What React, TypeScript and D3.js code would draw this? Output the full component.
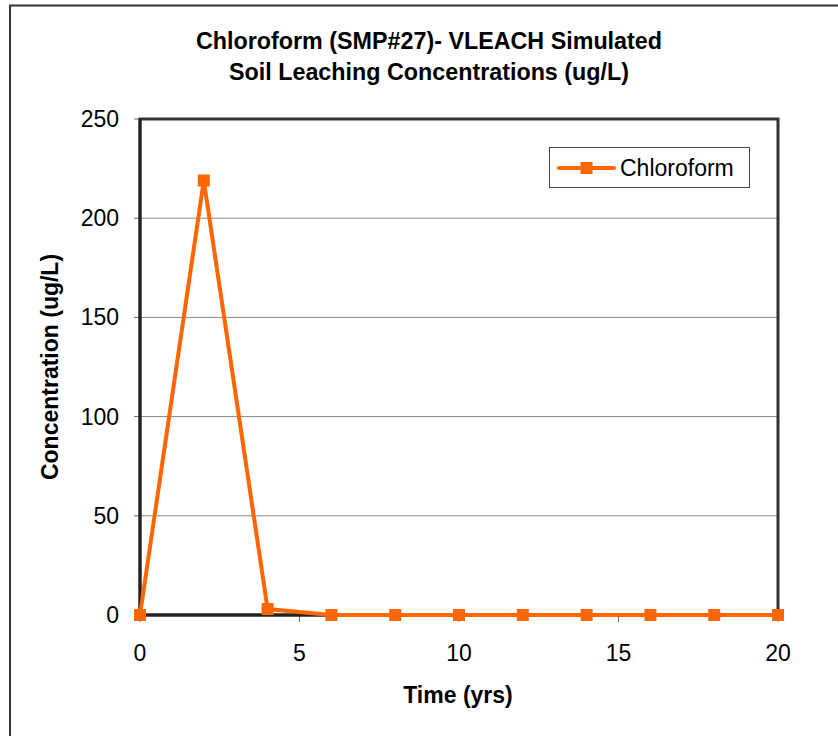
import React from "react";
import * as d3 from "d3";

const years = [0, 2, 4, 6, 8, 10, 12, 14, 16, 18, 20];
const concentrations = [0, 219, 3, 0, 0, 0, 0, 0, 0, 0, 0];
const xTicks = [0, 5, 10, 15, 20];
const yTicks = [0, 50, 100, 150, 200, 250];
const titleLines = ["Chloroform (SMP#27)- VLEACH Simulated", "Soil Leaching Concentrations (ug/L)"];
const seriesName = "Chloroform";

const W = 838, H = 736;
const L = 140, R = 778, T = 119, B = 615;
const ORANGE = "#FF6600";
const FONT = "'Liberation Sans', Arial, sans-serif";

export default function App() {
  const x = d3.scaleLinear().domain([0, 20]).range([L, R]);
  const y = d3.scaleLinear().domain([0, 250]).range([B, T]);
  const line = d3.line<number>().x((_, i) => x(years[i])).y((d) => y(d));
  const path = line(concentrations) || "";
  const ms = 12;
  return (
    <svg width={W} height={H} style={{ position: "absolute", left: 0, top: 0 }} fontFamily={FONT}>
      <rect x={0} y={0} width={W} height={H} fill="#fff" />
      <rect x={10} y={5.5} width={W + 10} height={H + 10} fill="none" stroke="#333" strokeWidth={2} />
      {titleLines.map((t, i) => (
        <text key={i} x={429} y={49 + i * 31} textAnchor="middle" fontSize={23.3} fontWeight="bold" fill="#000">{t}</text>
      ))}
      {yTicks.filter((v) => v > 0).map((v) => (
        <line key={v} x1={L} x2={R} y1={y(v)} y2={y(v)} stroke="#888" strokeWidth={1} />
      ))}
      {yTicks.map((v) => (
        <g key={v}>
          <line x1={L - 6} x2={L} y1={y(v)} y2={y(v)} stroke="#666" strokeWidth={1} />
          <text x={119} y={y(v) + 8} textAnchor="end" fontSize={23} fill="#000">{v}</text>
        </g>
      ))}
      {xTicks.map((v) => (
        <g key={v}>
          <line x1={x(v)} x2={x(v)} y1={B} y2={B + 7} stroke="#666" strokeWidth={1} />
          <text x={x(v)} y={661} textAnchor="middle" fontSize={23} fill="#000">{v}</text>
        </g>
      ))}
      <rect x={L} y={T} width={R - L} height={B - T} fill="none" stroke="#333" strokeWidth={3} />
      <line x1={L} x2={R} y1={B} y2={B} stroke="#222" strokeWidth={3} />
      <line x1={L} x2={L} y1={T} y2={B} stroke="#222" strokeWidth={3} />
      <path d={path} fill="none" stroke={ORANGE} strokeWidth={4} strokeLinejoin="miter" />
      {concentrations.map((v, i) => (
        <rect key={i} x={x(years[i]) - ms / 2} y={y(v) - ms / 2} width={ms} height={ms} fill={ORANGE} />
      ))}
      <text transform={`translate(58,${367}) rotate(-90)`} textAnchor="middle" fontSize={23} fontWeight="bold" fill="#000">Concentration (ug/L)</text>
      <text x={458} y={703} textAnchor="middle" fontSize={23} fontWeight="bold" fill="#000">Time (yrs)</text>
      <g>
        <rect x={549.5} y={147.5} width={200} height={40} fill="#fff" stroke="#444" strokeWidth={1} />
        <line x1={559} x2={614} y1={168} y2={168} stroke={ORANGE} strokeWidth={4} strokeLinecap="round" />
        <rect x={580.5} y={162} width={12} height={12} fill={ORANGE} />
        <text x={620} y={176} fontSize={23} fill="#000">{seriesName}</text>
      </g>
    </svg>
  );
}
